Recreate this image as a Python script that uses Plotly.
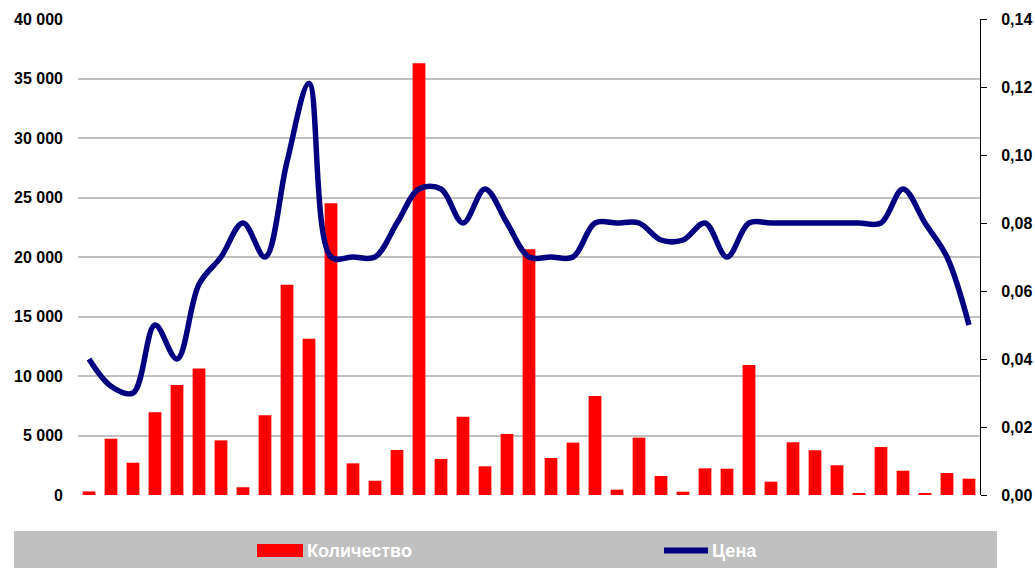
import plotly.graph_objects as go

categories = list(range(1, 42))
quantity = [300, 4730, 2710, 6950, 9240, 10640, 4590, 650, 6700, 17670,
            13130, 24510, 2660, 1200, 3780, 36280, 3030, 6580, 2410, 5130,
            20650, 3110, 4400, 8320, 450, 4820, 1600, 280, 2240, 2210,
            10920, 1120, 4430, 3760, 2500, 170, 4030, 2040, 170, 1850, 1370]
price = [0.04, 0.032, 0.03, 0.05, 0.04, 0.062, 0.07, 0.08, 0.07, 0.098,
         0.121, 0.07, 0.07, 0.07, 0.08, 0.09, 0.09, 0.08, 0.09, 0.08,
         0.07, 0.07, 0.07, 0.08, 0.08, 0.08, 0.075, 0.075, 0.08, 0.07,
         0.08, 0.08, 0.08, 0.08, 0.08, 0.08, 0.08, 0.09, 0.08, 0.07, 0.05]
series_names = ["Количество", "Цена"]
left_ticks = [0, 5000, 10000, 15000, 20000, 25000, 30000, 35000, 40000]
right_ticks = [0, 0.02, 0.04, 0.06, 0.08, 0.10, 0.12, 0.14]

W, H = 1035, 568
L, R, T, B = 78, 980, 19, 495
FONT = "Liberation Sans, Arial, sans-serif"

def px(x):
    return (x - L) / (R - L)

def py(y):
    return (B - y) / (B - T)

fig = go.Figure()
fig.add_trace(go.Bar(x=categories, y=quantity, name=series_names[0],
                     marker=dict(color="#FF0000", line=dict(width=0)),
                     showlegend=False))
fig.add_trace(go.Scatter(x=categories, y=price, name=series_names[1], yaxis="y2",
                         mode="lines", line=dict(color="#000080", width=5.5,
                                                 shape="spline", smoothing=1.0),
                         showlegend=False))

shapes = [
    dict(type="rect", xref="paper", yref="paper", x0=px(14), x1=px(997),
         y0=py(570), y1=py(531), fillcolor="#C0C0C0", line=dict(width=0), layer="below"),
    dict(type="rect", xref="paper", yref="paper", x0=px(257), x1=px(303),
         y0=py(557), y1=py(544), fillcolor="#FF0000", line=dict(width=0)),
    dict(type="line", xref="paper", yref="paper", x0=px(664), x1=px(708),
         y0=py(550.5), y1=py(550.5), line=dict(color="#000080", width=6)),
]
annotations = [
    dict(text=series_names[0], xref="paper", yref="paper", x=px(305), y=py(551),
         xanchor="left", yanchor="middle", showarrow=False,
         font=dict(family=FONT, size=18, color="white", weight="bold")),
    dict(text=series_names[1], xref="paper", yref="paper", x=px(710), y=py(551),
         xanchor="left", yanchor="middle", showarrow=False,
         font=dict(family=FONT, size=18, color="white", weight="bold")),
]

fig.update_layout(
    width=W, height=H,
    margin=dict(l=L, r=W - R, t=T, b=H - B, pad=0, autoexpand=False),
    paper_bgcolor="white", plot_bgcolor="white",
    separators=", ",
    bargap=0.42,
    font=dict(family=FONT, size=16, color="black"),
    xaxis=dict(range=[0.5, 41.5], showticklabels=False, showgrid=False,
               zeroline=False, showline=False, ticks="", automargin=False),
    yaxis=dict(range=[0, 40000], tickvals=left_ticks, tickformat=",d",
               showgrid=True, gridcolor="#C0C0C0", gridwidth=2,
               zeroline=False, showline=False, ticks="", ticklabelstandoff=14,
               automargin=False,
               tickfont=dict(family=FONT, size=16, color="black", weight="bold")),
    yaxis2=dict(range=[0, 0.14], tickvals=right_ticks, tickformat=".2f",
                overlaying="y", side="right", showgrid=False, zeroline=False,
                showline=True, linecolor="black", linewidth=1,
                ticks="outside", ticklen=6, tickcolor="black",
                ticklabelstandoff=11, automargin=False,
                tickfont=dict(family=FONT, size=16, color="black", weight="bold")),
    shapes=shapes, annotations=annotations,
)

fig.write_html("out.html", config={"displayModeBar": False},
               post_script="document.body.style.margin='0';document.body.style.overflow='hidden';")
